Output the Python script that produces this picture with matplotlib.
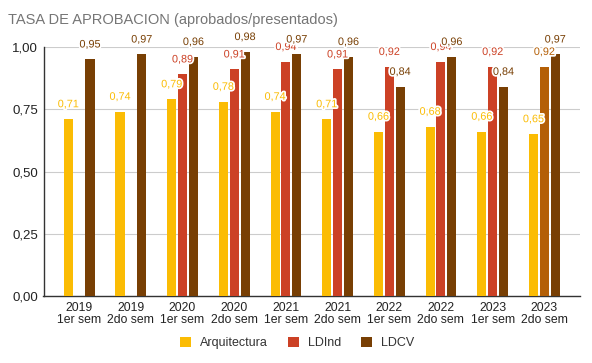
import matplotlib
matplotlib.use("Agg")
import matplotlib.pyplot as plt
import matplotlib.patheffects as pe
from matplotlib.patches import Patch
import numpy as np

categories = ["2019\n1er sem", "2019\n2do sem", "2020\n1er sem", "2020\n2do sem",
              "2021\n1er sem", "2021\n2do sem", "2022\n1er sem", "2022\n2do sem",
              "2023\n1er sem", "2023\n2do sem"]
arquitectura = [0.71, 0.74, 0.79, 0.78, 0.74, 0.71, 0.66, 0.68, 0.66, 0.65]
ldind = [None, None, 0.89, 0.91, 0.94, 0.91, 0.92, 0.94, 0.92, 0.92]
ldcv = [0.95, 0.97, 0.96, 0.98, 0.97, 0.96, 0.84, 0.96, 0.84, 0.97]
series_names = ["Arquitectura", "LDInd", "LDCV"]
colors = ["#fbbc04", "#cc4125", "#783f04"]
ldind_colors = ["#cc4125"] * 9 + ["#b45f06"]
yticks = [0.0, 0.25, 0.5, 0.75, 1.0]

plt.rcParams['font.family'] = ['Liberation Sans', 'DejaVu Sans']

fig = plt.figure(figsize=(5.92, 3.63), dpi=100)
ax = fig.add_axes([43.5 / 592, 1 - 296 / 363, (580 - 43.5) / 592, (296 - 47) / 363])

x = np.arange(len(categories))
w = 0.175
step = 0.21
series = [arquitectura, ldind, ldcv]
for si, vals in enumerate(series):
    for i, v in enumerate(vals):
        if v is None:
            continue
        c = ldind_colors[i] if si == 1 else colors[si]
        xp = x[i] + (si - 1) * step
        ax.bar(xp, v, width=w, color=c, zorder=3)
        t = ax.text(xp, v + 0.04, f"{v:.2f}".replace(".", ","), ha="center", va="bottom",
                    fontsize=7.8, color=c, zorder=5, clip_on=False)
        t.set_path_effects([pe.withStroke(linewidth=2.5, foreground="white")])

ax.set_xlim(-0.69, len(categories) - 1 + 0.69)
ax.set_ylim(0, 1.0)
ax.set_yticks(yticks)
ax.set_yticklabels([f"{v:.2f}".replace(".", ",") for v in yticks], fontsize=9.5, color="#222222")
ax.set_xticks(x)
ax.set_xticklabels(categories, fontsize=8.8, color="#222222", linespacing=1.0)
ax.tick_params(axis="x", length=0, pad=4)
ax.tick_params(axis="y", length=0, pad=4)
ax.grid(axis="y", color="#cccccc", linewidth=0.8, zorder=0)
for s in ["top", "right"]:
    ax.spines[s].set_visible(False)
ax.spines["left"].set_color("#333333")
ax.spines["bottom"].set_color("#333333")
ax.spines["left"].set_linewidth(1)
ax.spines["bottom"].set_linewidth(1)

fig.text(8 / 592, 1 - 20 / 363, "TASA DE APROBACION (aprobados/presentados)", fontsize=10.5,
         color="#757575", ha="left", va="center")

handles = [Patch(facecolor=c, edgecolor="none") for c in colors]
fig.legend(handles, series_names, loc="center", bbox_to_anchor=(297 / 592, 1 - 343 / 363), ncol=3,
           frameon=False, fontsize=9, handlelength=0.9, handleheight=0.9, columnspacing=1.6,
           handletextpad=0.7, labelcolor="#333333")

fig.savefig("out.png", dpi=100)
